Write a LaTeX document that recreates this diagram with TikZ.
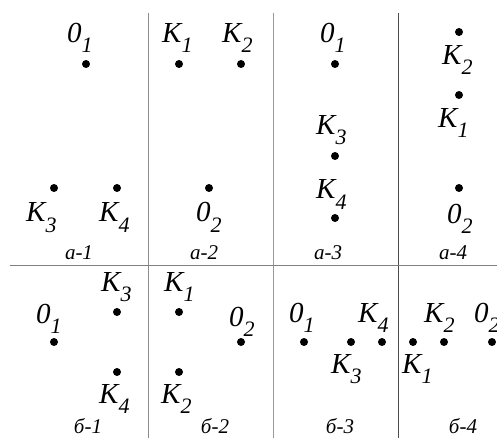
\documentclass[tikz,border=0pt]{standalone}
\usepackage{fontspec}
\setmainfont{Liberation Serif}
\newcommand\lab[2]{\textit{\fontsize{29}{29}\selectfont #1\raisebox{-10pt}{\fontsize{22}{22}\selectfont #2}}}
\begin{document}
\begin{tikzpicture}[x=1pt,y=-1pt,
  dotp/.style={circle,fill=black,inner sep=0pt,minimum size=8pt},
  lbl/.style={inner sep=0pt,anchor=base west},
  captxt/.style={inner sep=0pt,anchor=base,font=\itshape\fontsize{21}{21}\selectfont},
  sepline/.style={line width=0.9pt}]
\useasboundingbox (0,0) rectangle (497,438);
% separators
\coordinate (v1t) at (148,13); \coordinate (v1b) at (148,438);
\coordinate (v2t) at (273,13); \coordinate (v2b) at (273,438);
\coordinate (v3t) at (398,13); \coordinate (v3b) at (398,438);
\coordinate (hl) at (10,265); \coordinate (hr) at (497,265);
\draw[sepline,draw=black!45] (v1t) -- (v1b);
\draw[sepline,draw=black!40] (v2t) -- (v2b);
\draw[sepline,draw=black!70] (v3t) -- (v3b);
\draw[sepline,draw=black!50] (hl) -- (hr);
% a-1
\node[dotp] (a1o1) at (86,64) {};
\node[dotp] (a1k3) at (54,188) {};
\node[dotp] (a1k4) at (117,188) {};
\node[lbl] (a1o1l) at (67,43) {\lab{0}{1}};
\node[lbl] (a1k3l) at (26,222) {\lab{K}{3}};
\node[lbl] (a1k4l) at (99,222) {\lab{K}{4}};
\node[captxt] (a1c) at (79,259) {a-1};
% a-2
\node[dotp] (a2k1) at (179,64) {};
\node[dotp] (a2k2) at (241,64) {};
\node[dotp] (a2o2) at (209,188) {};
\node[lbl] (a2k1l) at (162,43) {\lab{K}{1}};
\node[lbl] (a2k2l) at (222,43) {\lab{K}{2}};
\node[lbl] (a2o2l) at (196,222) {\lab{0}{2}};
\node[captxt] (a2c) at (204,259) {a-2};
% a-3
\node[dotp] (a3o1) at (335,64) {};
\node[dotp] (a3k3) at (335,156) {};
\node[dotp] (a3k4) at (335,218) {};
\node[lbl] (a3o1l) at (320,43) {\lab{0}{1}};
\node[lbl] (a3k3l) at (316,135) {\lab{K}{3}};
\node[lbl] (a3k4l) at (316,199) {\lab{K}{4}};
\node[captxt] (a3c) at (328,259) {a-3};
% a-4
\node[dotp] (a4k2) at (459,32) {};
\node[dotp] (a4k1) at (459,95) {};
\node[dotp] (a4o2) at (459,188) {};
\node[lbl] (a4k2l) at (442,65) {\lab{K}{2}};
\node[lbl] (a4k1l) at (438,128) {\lab{K}{1}};
\node[lbl] (a4o2l) at (447,223) {\lab{0}{2}};
\node[captxt] (a4c) at (453,259) {a-4};
% b-1
\node[dotp] (b1o1) at (54,342) {};
\node[dotp] (b1k3) at (117,312) {};
\node[dotp] (b1k4) at (117,372) {};
\node[lbl] (b1o1l) at (36,323) {\lab{0}{1}};
\node[lbl] (b1k3l) at (101,291) {\lab{K}{3}};
\node[lbl] (b1k4l) at (99,403) {\lab{K}{4}};
\node[captxt] (b1c) at (88,433) {б-1};
% b-2
\node[dotp] (b2k1) at (179,312) {};
\node[dotp] (b2o2) at (241,342) {};
\node[dotp] (b2k2) at (179,372) {};
\node[lbl] (b2k1l) at (164,291) {\lab{K}{1}};
\node[lbl] (b2o2l) at (229,326) {\lab{0}{2}};
\node[lbl] (b2k2l) at (161,403) {\lab{K}{2}};
\node[captxt] (b2c) at (215,433) {б-2};
% b-3
\node[dotp] (b3o1) at (304,342) {};
\node[dotp] (b3k3) at (351,342) {};
\node[dotp] (b3k4) at (382,342) {};
\node[lbl] (b3o1l) at (289,322) {\lab{0}{1}};
\node[lbl] (b3k3l) at (331,373) {\lab{K}{3}};
\node[lbl] (b3k4l) at (358,322) {\lab{K}{4}};
\node[captxt] (b3c) at (340,433) {б-3};
% b-4
\node[dotp] (b4k1) at (413,342) {};
\node[dotp] (b4k2) at (444,342) {};
\node[dotp] (b4o2) at (492,342) {};
\node[lbl] (b4k1l) at (402,373) {\lab{K}{1}};
\node[lbl] (b4k2l) at (424,322) {\lab{K}{2}};
\node[lbl] (b4o2l) at (474,322) {\lab{0}{2}};
\node[captxt] (b4c) at (463,433) {б-4};
\end{tikzpicture}
\end{document}
